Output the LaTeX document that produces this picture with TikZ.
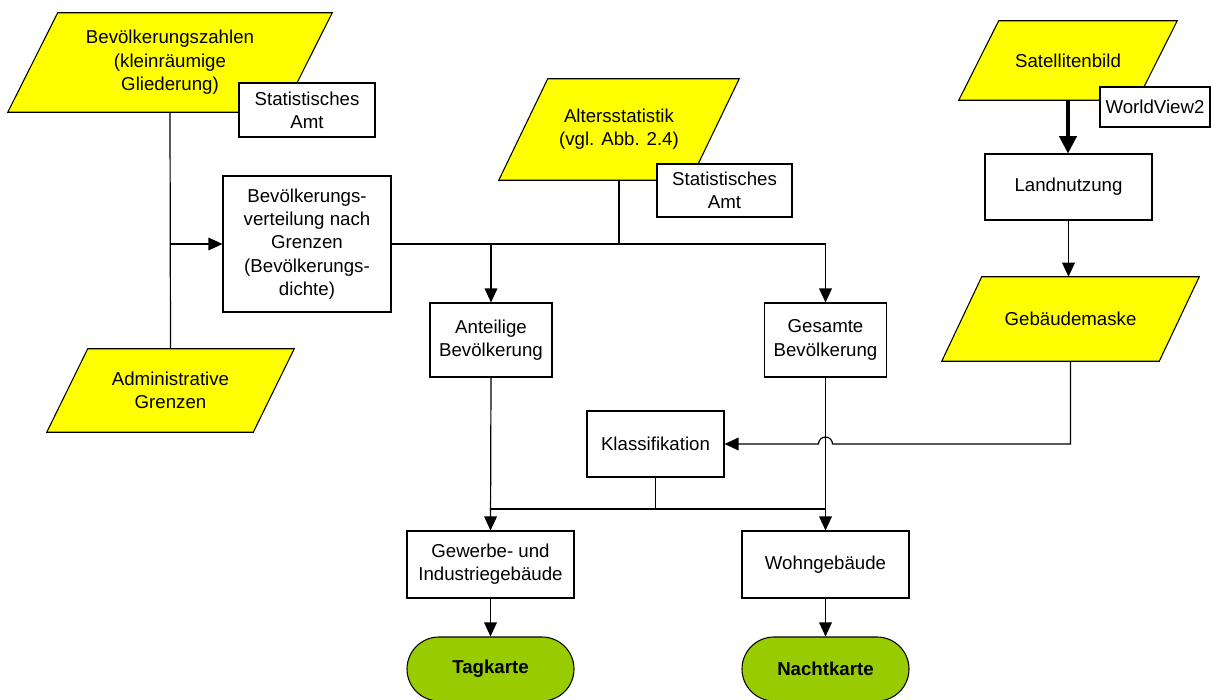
\documentclass[tikz,border=0pt]{standalone}
\usepackage{fontspec}
\setmainfont{Liberation Sans}
\usetikzlibrary{arrows.meta,backgrounds,calc}

\definecolor{datayellow}{HTML}{FFFF00}
\definecolor{mapgreen}{HTML}{99CC00}

% draws the yellow data parallelogram behind a node: #1 node name, #2 slant
\newcommand\dataslab[2]{%
  \begin{scope}[on background layer]
    \filldraw[fill=datayellow, draw=black, line width=0.8pt]
      ($(#1.north west)+(#2,0)$) -- (#1.north east)
      -- ($(#1.south east)-(#2,0)$) -- (#1.south west) -- cycle;
  \end{scope}}

\begin{document}
\begin{tikzpicture}[
    x=0.75pt, y=-0.75pt,
    every node/.style={font=\fontsize{14}{17.5}\selectfont, inner sep=0pt, align=center},
    sz/.style 2 args={minimum width=#1*0.75pt, minimum height=#2*0.75pt},
    procbox/.style={draw, line width=0.8pt, fill=white},
    datanode/.style={rectangle},
    mapnode/.style={draw, line width=0.8pt, fill=mapgreen, rounded corners=24pt,
                    font=\fontsize{14}{17}\selectfont\bfseries},
    link/.style={line width=0.9pt},
    arrow/.style={link, -{Triangle[length=10.5pt, width=9.5pt]}},
    thickarrow/.style={line width=2.4pt, -{Triangle[length=13pt, width=13pt]}}
  ]
  \useasboundingbox (0,0) rectangle (1211,700);

  % data sources
  \node[datanode, sz={324}{99}] (bz) at (170,62.5)
    {Bevölkerungszahlen\\(kleinräumige\\Gliederung)};
  \dataslab{bz}{50}
  \node[datanode, sz={240}{101}] (as) at (619,129.5)
    {Altersstatistik\\(vgl. Abb. 2.4)};
  \dataslab{as}{49}
  \node[datanode, sz={218}{79}] (sb) at (1068,60.5) {Satellitenbild};
  \dataslab{sb}{40}
  \node[datanode, sz={257}{84}] (gm) at (1070.5,319) {Gebäudemaske};
  \dataslab{gm}{40}
  \node[datanode, sz={247}{83}] (ag) at (170.5,390.5)
    {Administrative\\Grenzen};
  \dataslab{ag}{41}

  % source labels
  \node[procbox, sz={136}{54}] (st1) at (307,110) {Statistisches\\Amt};
  \node[procbox, sz={135}{53}] (st2) at (724.5,190.5) {Statistisches\\Amt};
  \node[procbox, sz={110}{40}] (wv) at (1155,107) {WorldView2};

  % processing steps
  \node[procbox, sz={168}{136}] (bv) at (307,244)
    {Bevölkerungs-\\verteilung nach\\Grenzen\\(Bevölkerungs-\\dichte)};
  \node[procbox, sz={167}{66}] (ln) at (1068.5,187) {Landnutzung};
  \node[procbox, sz={122}{74}] (an) at (491,340) {Anteilige\\Bevölkerung};
  \node[procbox, sz={122}{74}] (ge) at (825.5,340) {Gesamte\\Bevölkerung};
  \node[procbox, sz={137}{66}] (kl) at (655.5,444) {Klassifikation};
  \node[procbox, sz={167}{67}] (gw) at (490.5,564.5)
    {Gewerbe- und\\Industriegebäude};
  \node[procbox, sz={167}{67}] (wo) at (825.5,564.5) {Wohngebäude};

  % results
  \node[mapnode, sz={167}{64}] (tk) at (490.5,669) {Tagkarte};
  \node[mapnode, sz={167}{64}] (nk) at (825.5,669) {Nachtkarte};

  % junction where the classification joins the two branches
  \coordinate (mrg) at (655.5,509);

  % connectors
  \draw[link] (bz.south) -- (ag.north);
  \draw[arrow] (bz.south |- bv.west) -- (bv.west);
  \draw[arrow] (bv.east) -| (ge.north);
  \draw[link] (as.south) -- (as.south |- bv.east);
  \draw[arrow] (an.north |- bv.east) -- (an.north);

  \draw[thickarrow] (sb.south) -- (sb.south |- ln.north);
  \draw[arrow] (ln.south) -- (ln.south |- gm.north);
  \draw[arrow] (gm.south) |- ($(ge.south |- kl.east)+(7,0)$)
    arc[start angle=0, end angle=-180, radius=7] -- (kl.east);

  \draw[link] (kl.south) -- (mrg);
  \draw[link] (an.south |- mrg) -- (ge.south |- mrg);
  \draw[arrow] (an.south) -- (gw.north);
  \draw[arrow] (ge.south) -- (wo.north);

  \draw[arrow] (gw.south) -- (tk.north);
  \draw[arrow] (wo.south) -- (nk.north);
\end{tikzpicture}
\end{document}
